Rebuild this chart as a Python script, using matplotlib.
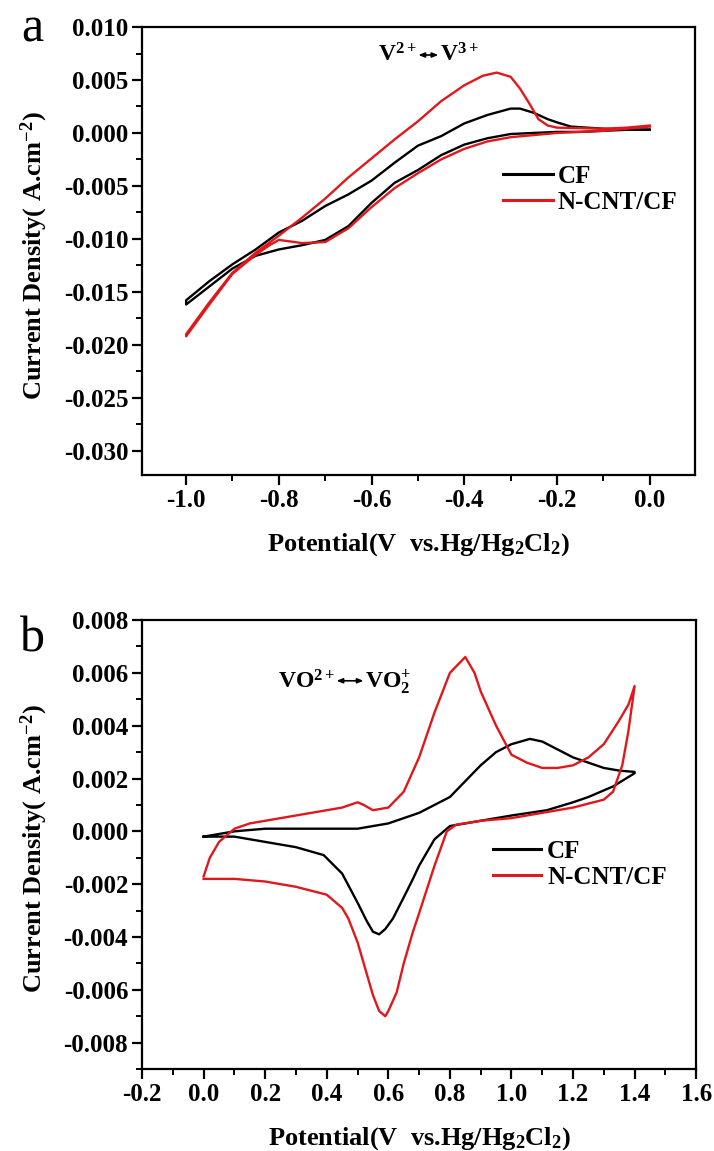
## Cyclic voltammograms of CF and N-CNT/CF electrodes, negative (V2+/V3+) and
## positive (VO2+/VO2+) couples.

import numpy as np
import matplotlib
matplotlib.use("Agg")
import matplotlib.pyplot as plt
from matplotlib.ticker import MultipleLocator, FormatStrFormatter

# ---- panel a : V2+ <-> V3+ ----
a_cf_E_cath = [0.0, -0.05, -0.1, -0.15, -0.2, -0.25, -0.3, -0.35, -0.4, -0.45, -0.5,
               -0.55, -0.6, -0.65, -0.7, -0.75, -0.8, -0.85, -0.9, -0.95, -1.0]
a_cf_j_cath = [0.0003, 0.0003, 0.0002, 0.0001, 0.0001, 0.0, -0.0001, -0.0005, -0.0011, -0.0021, -0.0035,
               -0.0047, -0.0066, -0.0088, -0.0101, -0.0106, -0.0110, -0.0116, -0.0128, -0.0145, -0.0162]
a_cf_E_anod = [-1.0, -0.95, -0.9, -0.85, -0.8, -0.75, -0.7, -0.65, -0.6, -0.55, -0.5, -0.45,
               -0.4, -0.35, -0.3, -0.28, -0.25, -0.22, -0.2, -0.17, -0.1, -0.05, 0.0]
a_cf_j_anod = [-0.0158, -0.0140, -0.0124, -0.0110, -0.0094, -0.0083, -0.0069, -0.0058, -0.0045, -0.0028, -0.0012, -0.0003,
               0.0009, 0.0017, 0.0023, 0.0023, 0.0019, 0.0013, 0.0010, 0.0006, 0.0004, 0.0003, 0.0003]

a_cnt_E_cath = [0.0, -0.05, -0.1, -0.15, -0.2, -0.25, -0.3, -0.35, -0.4, -0.45, -0.5, -0.55, -0.6,
                -0.65, -0.7, -0.75, -0.8, -0.82, -0.85, -0.9, -0.95, -1.0]
a_cnt_j_cath = [0.0006, 0.0004, 0.0002, 0.0001, 0.0, -0.0002, -0.0004, -0.0008, -0.0015, -0.0025, -0.0038, -0.0052, -0.0070,
                -0.0090, -0.0103, -0.0104, -0.0101, -0.0106, -0.0115, -0.0133, -0.0162, -0.0192]
a_cnt_E_anod = [-1.0, -0.95, -0.9, -0.85, -0.8, -0.75, -0.7, -0.65, -0.6, -0.55, -0.5, -0.45, -0.4,
                -0.36, -0.33, -0.3, -0.28, -0.26, -0.24, -0.22, -0.2, -0.1, -0.05, 0.0]
a_cnt_j_anod = [-0.0190, -0.0160, -0.0132, -0.0113, -0.0097, -0.0080, -0.0062, -0.0042, -0.0024, -0.0006, 0.0011, 0.0030, 0.0045,
                0.0054, 0.0057, 0.0053, 0.0042, 0.0028, 0.0013, 0.0007, 0.0005, 0.0004, 0.0005, 0.0007]

# ---- panel b : VO2+ <-> VO2+ ----
b_cf_E_anod = [0.0, 0.05, 0.1, 0.2, 0.3, 0.4, 0.5, 0.6, 0.7, 0.8, 0.85, 0.9, 0.95,
               1.0, 1.06, 1.1, 1.15, 1.2, 1.25, 1.3, 1.35, 1.4]
b_cf_j_anod = [-0.0002, -0.0001, 0.0, 0.0001, 0.0001, 0.0001, 0.0001, 0.0003, 0.0007, 0.0013, 0.0019, 0.0025, 0.0030,
               0.0033, 0.0035, 0.0034, 0.0031, 0.0028, 0.0026, 0.0024, 0.0023, 0.00225]
b_cf_E_cath = [1.4, 1.33, 1.25, 1.2, 1.115, 1.0, 0.9, 0.8, 0.75, 0.7, 0.68, 0.65, 0.615, 0.59, 0.57,
               0.55, 0.53, 0.5, 0.45, 0.39, 0.3, 0.2, 0.1, 0.05, 0.0]
b_cf_j_cath = [0.0022, 0.0017, 0.0013, 0.0011, 0.0008, 0.0006, 0.0004, 0.0002, -0.0003, -0.0013, -0.0018, -0.0025, -0.0033, -0.0037, -0.0039,
               -0.0038, -0.0034, -0.0027, -0.0016, -0.0009, -0.0006, -0.0004, -0.0002, -0.0002, -0.0002]

b_cnt_E_anod = [0.0, 0.02, 0.05, 0.1, 0.15, 0.2, 0.3, 0.4, 0.45, 0.5, 0.52, 0.55, 0.6, 0.65, 0.7, 0.75,
                0.8, 0.85, 0.88, 0.9, 0.95, 1.0, 1.05, 1.1, 1.15, 1.2, 1.25, 1.3, 1.35, 1.38, 1.4]
b_cnt_j_anod = [-0.0017, -0.0010, -0.0004, 0.0001, 0.0003, 0.0004, 0.0006, 0.0008, 0.0009, 0.0011, 0.0010, 0.0008, 0.0009, 0.0015, 0.0028, 0.0045,
                0.0060, 0.0066, 0.0060, 0.0053, 0.0040, 0.0029, 0.0026, 0.0024, 0.0024, 0.0025, 0.0028, 0.0033, 0.0042, 0.0048, 0.0055]
b_cnt_E_cath = [1.4, 1.38, 1.36, 1.33, 1.3, 1.2, 1.1, 1.0, 0.9, 0.82, 0.79, 0.75, 0.7, 0.68, 0.65, 0.627,
                0.6, 0.59, 0.57, 0.55, 0.52, 0.5, 0.47, 0.45, 0.4, 0.3, 0.2, 0.1, 0.05, 0.0]
b_cnt_j_cath = [0.0055, 0.0038, 0.0025, 0.0015, 0.0012, 0.0009, 0.0007, 0.0005, 0.0004, 0.00025, 0.0, -0.0013, -0.0031, -0.0038, -0.0050, -0.0061,
                -0.0068, -0.0070, -0.0068, -0.0062, -0.0050, -0.0042, -0.0033, -0.0029, -0.0024, -0.0021, -0.0019, -0.0018, -0.0018, -0.0018]

labels = ["CF", "N-CNT/CF"]
colors = ["black", "#e0181b"]

plt.rcParams['font.family'] = ['Liberation Serif', 'DejaVu Serif']
plt.rcParams['font.weight'] = 'bold'
plt.rcParams['axes.unicode_minus'] = False
plt.rcParams['mathtext.fontset'] = 'custom'
plt.rcParams['mathtext.rm'] = 'Liberation Serif:bold'
plt.rcParams['mathtext.bf'] = 'Liberation Serif:bold'
plt.rcParams['mathtext.it'] = 'Liberation Serif:bold'


def loop(E1, j1, E2, j2):
    return np.array(E1 + E2), np.array(j1 + j2)


def styleAxes(ax, xmaj, ymaj, yfmt):
    for s in ax.spines.values():
        s.set_linewidth(1.6)
    ax.xaxis.set_major_locator(MultipleLocator(xmaj))
    ax.xaxis.set_minor_locator(MultipleLocator(xmaj / 2))
    ax.yaxis.set_major_locator(MultipleLocator(ymaj))
    ax.yaxis.set_minor_locator(MultipleLocator(ymaj / 2))
    ax.xaxis.set_major_formatter(FormatStrFormatter('%.1f'))
    ax.yaxis.set_major_formatter(FormatStrFormatter(yfmt))
    ax.tick_params(which='major', direction='out', length=7, width=1.6, labelsize=18, pad=3,
                   top=False, right=False)
    ax.tick_params(which='minor', direction='out', length=4, width=1.4, top=False, right=False)
    for t in ax.get_xticklabels() + ax.get_yticklabels():
        t.set_fontweight('bold')
    ax.set_xlabel(r'Potential(V  vs.Hg/Hg$_{2}$Cl$_{2}$)', fontsize=19, fontweight='bold')
    ax.set_ylabel(r'Current Density( A.cm$^{-2}$)', fontsize=19, fontweight='bold')
    ax.xaxis.set_label_coords(0.5, -0.125)
    ax.yaxis.set_label_coords(-0.166, 0.49)


def couple(ax, left, right, x1, x2, ybase, yarrow):
    # species names either side of a double-headed arrow
    ax.text(x1, ybase, left, ha='right', va='baseline', fontsize=17)
    ax.text(x2, ybase, right, ha='left', va='baseline', fontsize=17)
    ax.annotate('', xy=(x2, yarrow), xytext=(x1, yarrow),
                arrowprops=dict(arrowstyle='<|-|>,head_length=0.35,head_width=0.14',
                                lw=1.2, color='black', shrinkA=1, shrinkB=1))


fig = plt.figure(figsize=(7.14, 11.51), dpi=100)
axA = fig.add_axes([0.199, 0.5873, 0.774, 0.3892])
axB = fig.add_axes([0.199, 0.0712, 0.776, 0.3901])

curvesA = [loop(a_cf_E_cath, a_cf_j_cath, a_cf_E_anod, a_cf_j_anod),
           loop(a_cnt_E_cath, a_cnt_j_cath, a_cnt_E_anod, a_cnt_j_anod)]
curvesB = [loop(b_cf_E_anod, b_cf_j_anod, b_cf_E_cath, b_cf_j_cath),
           loop(b_cnt_E_anod, b_cnt_j_anod, b_cnt_E_cath, b_cnt_j_cath)]

for (E, j), lab, c in zip(curvesA, labels, colors):
    axA.plot(E, j, color=c, lw=1.7, label=lab)
for (E, j), lab, c in zip(curvesB, labels, colors):
    axB.plot(E, j, color=c, lw=1.7, label=lab)

axA.set_xlim(-1.095, 0.097)
axA.set_ylim(-0.0323, 0.010)
styleAxes(axA, 0.2, 0.005, '%.3f')
axB.set_xlim(-0.2, 1.6)
axB.set_ylim(-0.009, 0.008)
styleAxes(axB, 0.2, 0.002, '%.3f')

couple(axA, r'V$^{2+}$', r'V$^{3+}$', -0.502, -0.453, 0.0067, 0.00736)
couple(axB, r'VO$^{2+}$', r'VO$_{2}^{+}$', 0.427, 0.524, 0.0054, 0.0057)

legA = axA.legend(loc='upper left', bbox_to_anchor=(0.653, 0.692), frameon=False, fontsize=18,
                  handlelength=2.0, handletextpad=0.2, labelspacing=0.1, borderpad=0, borderaxespad=0)
legB = axB.legend(loc='upper left', bbox_to_anchor=(0.634, 0.51), frameon=False, fontsize=18,
                  handlelength=1.9, handletextpad=0.25, labelspacing=0.1, borderpad=0, borderaxespad=0)
for leg in (legA, legB):
    for t in leg.get_texts():
        t.set_fontweight('bold')
    for h in leg.get_lines():
        h.set_linewidth(2.2)

fig.text(32 / 714, 1 - 42 / 1151, 'a', ha='center', va='baseline', fontsize=36, fontweight='normal')
fig.text(32 / 714, 1 - 652 / 1151, 'b', ha='center', va='baseline', fontsize=36, fontweight='normal')

plt.savefig("out.png", dpi=100)
